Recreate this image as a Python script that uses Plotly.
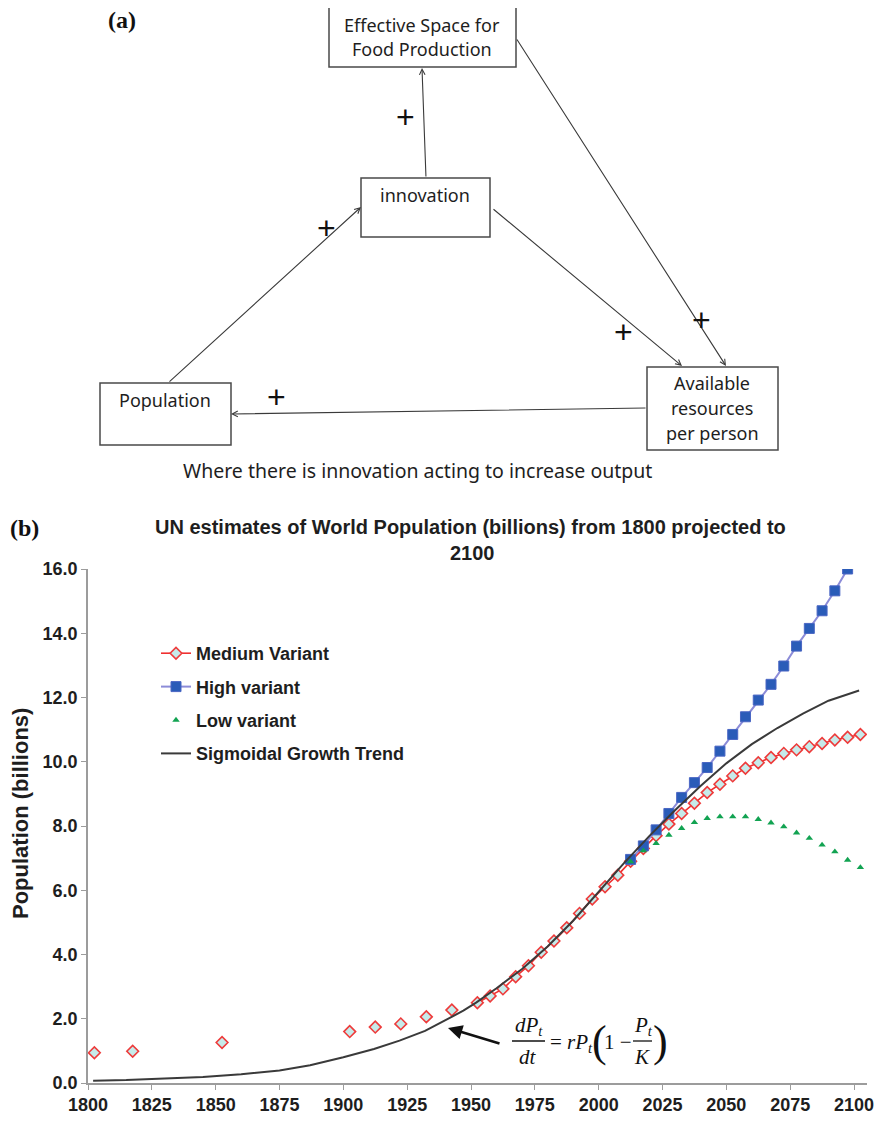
import plotly.graph_objects as go

# The page body has an 8px default margin, so the figure is drawn 8px in from the
# window corner; all layout positions below are given in window pixels and mapped.
OFF = 8
W, H = 882 - 2 * OFF, 1122 - 2 * OFF

# ---------------- data ----------------
medium_early_years = [1802.5, 1817.5, 1852.5, 1902.5, 1912.5, 1922.5, 1932.5, 1942.5]
medium_early_values = [0.94, 0.99, 1.26, 1.60, 1.74, 1.84, 2.06, 2.27]

medium_years = [1952.5, 1957.5, 1962.5, 1967.5, 1972.5, 1977.5, 1982.5, 1987.5, 1992.5,
                1997.5, 2002.5, 2007.5, 2012.5, 2017.5, 2022.5, 2027.5, 2032.5, 2037.5,
                2042.5, 2047.5, 2052.5, 2057.5, 2062.5, 2067.5, 2072.5, 2077.5, 2082.5,
                2087.5, 2092.5, 2097.5, 2102.5]
medium_values = [2.50, 2.71, 2.93, 3.31, 3.65, 4.07, 4.42, 4.83, 5.28,
                 5.73, 6.11, 6.47, 6.90, 7.30, 7.70, 8.06, 8.39, 8.71,
                 9.04, 9.30, 9.56, 9.80, 9.97, 10.13, 10.26, 10.37, 10.47,
                 10.57, 10.68, 10.76, 10.85]

high_years = [2012.5, 2017.5, 2022.5, 2027.5, 2032.5, 2037.5, 2042.5, 2047.5, 2052.5,
              2057.5, 2062.5, 2067.5, 2072.5, 2077.5, 2082.5, 2087.5, 2092.5, 2097.5]
high_values = [6.96, 7.38, 7.88, 8.39, 8.89, 9.35, 9.82, 10.33, 10.85,
               11.40, 11.92, 12.41, 12.98, 13.60, 14.15, 14.70, 15.32, 16.00]

low_years = [2012.5, 2017.5, 2022.5, 2027.5, 2032.5, 2037.5, 2042.5, 2047.5, 2052.5,
             2057.5, 2062.5, 2067.5, 2072.5, 2077.5, 2082.5, 2087.5, 2092.5, 2097.5, 2102.5]
low_values = [6.89, 7.23, 7.46, 7.72, 7.93, 8.11, 8.24, 8.29, 8.29,
              8.29, 8.21, 8.10, 7.98, 7.79, 7.62, 7.41, 7.20, 6.94, 6.71]

sigmoid_years = [1802, 1815, 1830, 1845, 1860, 1875, 1887, 1900, 1912, 1922, 1932, 1940,
                 1947, 1952, 1960, 1970, 1980, 1990, 2000, 2010, 2020, 2030, 2040, 2050,
                 2060, 2070, 2080, 2090, 2102]
sigmoid_values = [0.07, 0.09, 0.14, 0.19, 0.27, 0.39, 0.55, 0.80, 1.06, 1.32, 1.62, 1.95,
                  2.25, 2.50, 2.95, 3.55, 4.25, 5.05, 5.95, 6.85, 7.70, 8.50, 9.25, 9.95,
                  10.55, 11.05, 11.50, 11.90, 12.22]

x_ticks = [1800, 1825, 1850, 1875, 1900, 1925, 1950, 1975, 2000, 2025, 2050, 2075, 2100]
y_ticks = [0, 2, 4, 6, 8, 10, 12, 14, 16]

chart_title_1 = "UN estimates of World Population (billions) from 1800 projected to"
chart_title_2 = "2100"
y_title = "Population (billions)"

diagram_boxes = {
    "effective": ["Effective Space for", "Food Production"],
    "innovation": ["innovation"],
    "population": ["Population"],
    "available": ["Available", "resources", "per person"],
}
diagram_caption = "Where there is innovation acting to increase output"

# ---------------- helpers ----------------
def fx(x):
    return (x - OFF) / W


def fy(y):
    return 1 - (y - OFF) / H


ARIAL = "Liberation Sans"
SERIF = "Liberation Serif"
DIAG = "Noto Sans"
TXT = "#1e1e1e"

fig = go.Figure()

fig.add_trace(go.Scatter(
    x=medium_early_years, y=medium_early_values, mode="markers",
    marker=dict(symbol="diamond", size=9, color="#c6ebea", line=dict(color="#ee3b3b", width=1.6)),
    legendgroup="med", showlegend=False, hoverinfo="skip"))

fig.add_trace(go.Scatter(
    x=medium_years, y=medium_values, mode="lines+markers", name="Medium Variant",
    line=dict(color="#f03030", width=1.6),
    marker=dict(symbol="diamond", size=9, color="#c6ebea", line=dict(color="#ee3b3b", width=1.6)),
    legendgroup="med"))

fig.add_trace(go.Scatter(
    x=high_years, y=high_values, mode="lines+markers", name="High variant",
    line=dict(color="#8c8cd8", width=2),
    marker=dict(symbol="square", size=10, color="#2a5cb8", line=dict(color="#4a66c4", width=1)),
    legendgroup="high"))

fig.add_trace(go.Scatter(
    x=low_years, y=low_values, mode="markers", name="Low variant",
    marker=dict(symbol="triangle-up", size=6.5, color="#12a352"),
    legendgroup="low"))

fig.add_trace(go.Scatter(
    x=sigmoid_years, y=sigmoid_values, mode="lines", name="Sigmoidal Growth Trend",
    line=dict(color="#3a3a3a", width=2),
    legendgroup="sig"))

# plot area in window pixels: x 88..867, y 569..1083
x0px, x1px = 88, 867
ytop, ybot = 569, 1083
px_per_year = (854 - 88) / 300.0
xmax = 1800 + (x1px - x0px) / px_per_year

axis_col = "#9c9c9c"
fig.update_xaxes(
    domain=[fx(x0px), fx(x1px)], range=[1800, xmax],
    tickvals=x_ticks, ticktext=[str(v) for v in x_ticks],
    showline=True, linecolor=axis_col, linewidth=1.6,
    ticks="outside", ticklen=5, tickcolor=axis_col, tickwidth=1.4,
    showgrid=False, zeroline=False, ticklabeloverflow="allow",
    tickfont=dict(family=ARIAL, size=18, color=TXT, weight="bold"))
fig.update_yaxes(
    domain=[fy(ybot), fy(ytop)], range=[0, 16],
    tickvals=y_ticks, ticktext=["%.1f" % v for v in y_ticks],
    showline=True, linecolor=axis_col, linewidth=1.6,
    ticks="outside", ticklen=5, tickcolor=axis_col, tickwidth=1.4,
    showgrid=False, zeroline=False,
    tickfont=dict(family=ARIAL, size=18, color=TXT, weight="bold"))

annotations = []
shapes = []


def text(t, cx, cy, size, family=ARIAL, weight="normal", color=TXT, angle=0, style="normal",
         xanchor="center"):
    annotations.append(dict(
        text=t, x=fx(cx), y=fy(cy), xref="paper", yref="paper", showarrow=False,
        xanchor=xanchor, yanchor="middle", textangle=angle,
        font=dict(family=family, size=size, color=color, weight=weight, style=style)))


def arrow(tx, ty, hx, hy, width=1.1, color="#3a3a3a", head=5, size=1.0):
    annotations.append(dict(
        text="", x=fx(hx), y=fy(hy), xref="paper", yref="paper",
        ax=tx - hx, ay=ty - hy, axref="pixel", ayref="pixel",
        showarrow=True, arrowhead=head, arrowsize=size, arrowwidth=width, arrowcolor=color))


def box(xa, ya, xb, yb):
    shapes.append(dict(type="rect", xref="paper", yref="paper",
                       x0=fx(xa), x1=fx(xb), y0=fy(yb), y1=fy(ya),
                       line=dict(color="#4a4a4a", width=1.5), fillcolor="white", layer="below"))


# ---------------- panel (a): diagram ----------------
text("(a)", 122, 20, 24, family=SERIF, weight="bold", color="#111")
box(329, 7, 516, 67)
box(361, 178, 490, 237)
box(100, 383, 231, 445)
box(647, 367, 778, 450)

text(diagram_boxes["effective"][0], 422, 25, 18, family=DIAG)
text(diagram_boxes["effective"][1], 422, 49, 18, family=DIAG)
text(diagram_boxes["innovation"][0], 425, 195, 18, family=DIAG)
text(diagram_boxes["population"][0], 165, 400, 18, family=DIAG)
for i, line in enumerate(diagram_boxes["available"]):
    text(line, 712, 383 + 25 * i, 18, family=DIAG)
text(diagram_caption, 417, 470, 19.5, family=DIAG)

arrow(168, 383, 361, 207)
arrow(426, 178, 422, 68)
arrow(492, 208, 682, 366)
arrow(516, 38, 726, 366)
arrow(647, 408, 231, 414)

for (cx, cy) in [(405, 117), (326, 228), (623, 332), (701, 320), (276, 397)]:
    text("+", cx, cy, 32, family=ARIAL, color="#111")

# ---------------- panel (b): chart texts ----------------
text("(b)", 24, 528, 24, family=SERIF, weight="bold", color="#111")
text(chart_title_1, 470, 527, 20, weight="bold")
text(chart_title_2, 472, 553, 20, weight="bold")
text(y_title, 20, 814, 22, weight="bold", angle=-90)

# formula  dPt/dt = r Pt (1 - Pt/K)
FS = 21
text("<i>dP</i><sub><i>t</i></sub>", 529, 1026, FS, family=SERIF, color="#111")
text("<i>dt</i>", 528, 1057, FS, family=SERIF, color="#111")
shapes.append(dict(type="line", xref="paper", yref="paper", x0=fx(512), x1=fx(545),
                   y0=fy(1041), y1=fy(1041), line=dict(color="#111", width=1.3)))
text("= <i>rP</i><sub><i>t</i></sub>", 571, 1043, FS, family=SERIF, color="#111")
text("(", 599, 1041, 44, family=SERIF, color="#111")
text("1 \u2212", 618, 1042, FS, family=SERIF, color="#111")
text("<i>P</i><sub><i>t</i></sub>", 643, 1026, FS, family=SERIF, color="#111")
text("<i>K</i>", 642, 1057, FS, family=SERIF, color="#111")
shapes.append(dict(type="line", xref="paper", yref="paper", x0=fx(633), x1=fx(652),
                   y0=fy(1041), y1=fy(1041), line=dict(color="#111", width=1.3)))
text(")", 660, 1041, 44, family=SERIF, color="#111")
arrow(501, 1044, 448, 1028, width=2.6, color="#111", head=2, size=1.1)

fig.update_layout(
    width=W, height=H,
    margin=dict(l=0, r=0, t=0, b=0, autoexpand=False),
    paper_bgcolor="white", plot_bgcolor="white",
    showlegend=True,
    legend=dict(x=fx(156), y=fy(635), xanchor="left", yanchor="top",
                bgcolor="rgba(0,0,0,0)", borderwidth=0,
                font=dict(family=ARIAL, size=18, color=TXT, weight="bold"),
                tracegroupgap=7, itemwidth=30),
    annotations=annotations, shapes=shapes,
)

fig.write_html("out.html")
